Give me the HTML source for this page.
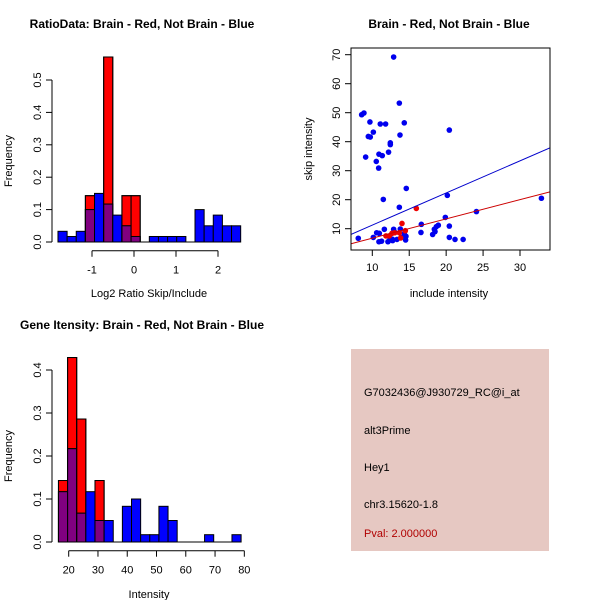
<!DOCTYPE html>
<html><head><meta charset="utf-8"><style>
body{margin:0;background:#fff}
svg{display:block;font-family:"Liberation Sans",sans-serif}
</style></head><body>
<svg id="s" width="600" height="600" viewBox="0 0 600 600">
<rect x="351" y="349" width="198" height="202" fill="#e6c8c2"/>
<g font-size="11" fill="#000">
<text x="364" y="396">G7032436@J930729_RC@i_at</text>
<text x="364" y="434">alt3Prime</text>
<text x="364" y="471">Hey1</text>
<text x="364" y="508">chr3.15620-1.8</text>
<text x="364" y="537" fill="#b00000">Pval: 2.000000</text>
</g>
</svg>
<script>
// ratio histogram
const ratioBlue=[0.033,0.017,0.033,0.1,0.15,0.117,0.083,0.05,0.017,0,0.017,0.017,0.017,0.017,0,0.1,0.05,0.083,0.05,0.05];
const ratioRed=[0,0,0,0.143,0,0.571,0,0.143,0.143,0,0,0,0,0,0,0,0,0,0,0];
const ratioBinStart=-1.81, ratioBinWidth=0.2175;
const ratioXTicks=[-1,0,1,2];
const ratioYTicks=[0,0.1,0.2,0.3,0.4,0.5];
// intensity histogram
const intBlue=[0.117,0.217,0.067,0.117,0.05,0.05,0,0.083,0.1,0.017,0.017,0.083,0.05,0,0,0,0.017,0,0,0.017];
const intRed=[0.143,0.429,0.286,0,0.143,0,0,0,0,0,0,0,0,0,0,0,0,0,0,0];
const intBinStart=16.5, intBinWidth=3.12;
const intXTicks=[20,30,40,50,60,70,80];
const intYTicks=[0,0.1,0.2,0.3,0.4];
// scatter
const blueX=[8.1,8.56,8.87,9.68,9.46,9.73,10.14,9.1,10.9,11.35,10.54,10.86,10.14,10.59,10.95,10.9,11.26,11.08,11.8,11.49,11.63,12.2,12.44,12.44,12.12,12.39,12.71,12.75,12.89,12.89,13.07,13.34,13.66,13.75,14.33,13.66,13.79,14.33,14.51,14.56,14.6,13.93,16.64,16.59,18.17,18.4,18.49,18.67,18.94,19.89,20.16,20.43,20.43,20.43,21.2,22.3,24.1,32.9];
const blueY=[6.7,49.3,49.9,46.8,41.8,41.6,43.3,34.7,35.7,35.2,33.2,30.9,7.0,8.6,8.4,5.5,5.7,46.1,46.1,20.1,9.8,36.4,39.6,39.0,5.5,6.3,6.4,5.9,69.2,9.8,8.7,6.3,53.3,42.3,46.5,17.4,9.9,8.4,6.1,7.4,23.9,7.0,11.5,8.7,8.0,9.8,9.0,10.7,11.2,13.9,21.5,44.0,10.9,7.0,6.3,6.3,15.9,20.5];
const redX=[11.85,12.3,12.66,13.02,13.66,14.02,13.84,14.47,15.96];
const redY=[7.5,7.5,8.4,8.6,8.6,11.8,6.8,9.3,17.0];
const blueFit=[0.16,1.108]; // intercept, slope
const redFit=[0.10,0.664];
const scXTicks=[10,15,20,25,30];
const scYTicks=[10,20,30,40,50,60,70];

const svg=document.getElementById('s');
const NS='http://www.w3.org/2000/svg';
function mk(tag,attrs,parent){const e=document.createElementNS(NS,tag);for(const k in attrs)e.setAttribute(k,attrs[k]);(parent||svg).appendChild(e);return e;}
function txt(x,y,s,attrs,parent){const e=mk('text',Object.assign({x:x,y:y},attrs||{}),parent);e.textContent=s;return e;}

function hist(o){
  const g=mk('g',{});
  
  
  const sx=v=>o.x0+(v-o.xv0)*o.xs, sy=v=>o.y0-v*o.ys;
  for(let i=0;i<o.blue.length;i++){
    const l=sx(o.start+i*o.w), r=sx(o.start+(i+1)*o.w);
    const b=o.blue[i], rd=o.red[i];
    if(rd>0){const e=mk('rect',{x:l,y:sy(rd),width:r-l,height:sy(0)-sy(rd),fill:'#ff0000',stroke:'#000','stroke-width':1},g);
      }
    if(b>0){const e=mk('rect',{x:l,y:sy(b),width:r-l,height:sy(0)-sy(b),fill:'#0000ff',stroke:'#000','stroke-width':1},g);
      }
    if(b>0&&rd>0){const m=Math.min(b,rd);const e=mk('rect',{x:l,y:sy(m),width:r-l,height:sy(0)-sy(m),fill:'#800080',stroke:'#000','stroke-width':1},g);
      }
    if(b>0&&rd>0&&rd>b){mk('rect',{x:l,y:sy(rd),width:r-l,height:sy(0)-sy(rd),fill:'none',stroke:'#000','stroke-width':1},g);}
  }
  // baseline
  mk('line',{x1:sx(o.start),x2:sx(o.start+o.blue.length*o.w),y1:o.y0,y2:o.y0,stroke:'#000'},g);
  // y axis
  const ya=mk('g',{},g);
  mk('line',{x1:52,x2:52,y1:sy(o.yt[0]),y2:sy(o.yt[o.yt.length-1]),stroke:'#000'},ya);
  o.yt.forEach(t=>{const y=sy(t);mk('line',{x1:46,x2:52,y1:y,y2:y,stroke:'#000'},ya);
    txt(0,0,t.toFixed(1),{transform:`translate(41,${y}) rotate(-90)`,'text-anchor':'middle','font-size':11},ya);});
  const yl=txt(0,0,'Frequency',{transform:`translate(12,${(o.y0+o.ytop)/2}) rotate(-90)`,'text-anchor':'middle','font-size':11},g);
  
  const xa=mk('g',{},g);
  const ax=o.y0+8.7;
  mk('line',{x1:sx(o.xt[0]),x2:sx(o.xt[o.xt.length-1]),y1:ax,y2:ax,stroke:'#000'},xa);
  o.xt.forEach(t=>{const x=sx(t);mk('line',{x1:x,x2:x,y1:ax,y2:ax+6,stroke:'#000'},xa);
    txt(x,ax+23,String(t),{'text-anchor':'middle','font-size':11},xa);});
  const xl=txt(149,o.xlabY,o.xlab,{'text-anchor':'middle','font-size':11},g);
  
  const tt=txt(142,o.titleY,o.title,{'text-anchor':'middle','font-size':12,'font-weight':'bold'},g);
  
}
hist({name:'ratio-histogram',blue:ratioBlue,red:ratioRed,start:ratioBinStart,w:ratioBinWidth,x0:134,xv0:0,xs:42,y0:242,ys:324,ytop:80,
  yt:ratioYTicks,xt:ratioXTicks,xlab:'Log2 Ratio Skip/Include',xlabY:297,title:'RatioData: Brain - Red, Not Brain - Blue',titleY:28});
hist({name:'intensity-histogram',blue:intBlue,red:intRed,start:intBinStart,w:intBinWidth,x0:68.7,xv0:20,xs:2.927,y0:542,ys:430,ytop:370,
  yt:intYTicks,xt:intXTicks,xlab:'Intensity',xlabY:598,title:'Gene Itensity: Brain - Red, Not Brain - Blue',titleY:329});

// scatter
(function(){
  const g=mk('g',{});
  
  
  const L=351,R=550,T=48,B=250;
  const sx=v=>372.3+(v-10)*7.385, sy=v=>228.7-(v-10)*2.9;
  const cp=mk('clipPath',{id:'cp'},g);mk('rect',{x:L,y:T,width:R-L,height:B-T},cp);
  function fit(f,c,n){const x1=(L-372.3)/7.385+10,x2=(R-372.3)/7.385+10;
    const e=mk('line',{x1:sx(x1),y1:sy(f[0]+f[1]*x1),x2:sx(x2),y2:sy(f[0]+f[1]*x2),stroke:c,'stroke-width':1,'clip-path':'url(#cp)'},g);
    }
  blueX.forEach((x,i)=>{const e=mk('circle',{cx:sx(x),cy:sy(blueY[i]),r:2.8,fill:'#0000ee'},g);
    });
  redX.forEach((x,i)=>{const e=mk('circle',{cx:sx(x),cy:sy(redY[i]),r:2.8,fill:'#ee0000'},g);
    });
  fit(blueFit,'#0000cc','blue-fit-line');
  fit(redFit,'#cc0000','red-fit-line');
  mk('rect',{x:L,y:T,width:R-L,height:B-T,fill:'none',stroke:'#000'},g);
  const xa=mk('g',{},g);
  scXTicks.forEach(t=>{const x=sx(t);mk('line',{x1:x,x2:x,y1:B,y2:B+6,stroke:'#000'},xa);
    txt(x,B+21,String(t),{'text-anchor':'middle','font-size':11},xa);});
  const ya=mk('g',{},g);
  scYTicks.forEach(t=>{const y=sy(t);mk('line',{x1:L-6,x2:L,y1:y,y2:y,stroke:'#000'},ya);
    txt(0,0,String(t),{transform:`translate(340,${y}) rotate(-90)`,'text-anchor':'middle','font-size':11},ya);});
  const xl=txt(449,297,'include intensity',{'text-anchor':'middle','font-size':11},g);
  
  const yl=txt(0,0,'skip intensity',{transform:`translate(312,149) rotate(-90)`,'text-anchor':'middle','font-size':11},g);
  
  const tt=txt(449,28,'Brain - Red, Not Brain - Blue',{'text-anchor':'middle','font-size':12,'font-weight':'bold'},g);
  
})();
</script>
</body></html>
